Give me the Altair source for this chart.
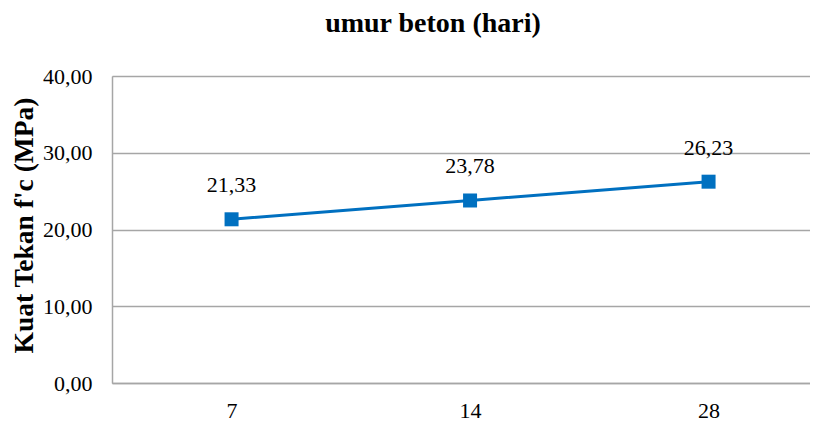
import altair as alt
import pandas as pd

days = ["7", "14", "28"]
strength = [21.33, 23.78, 26.23]

df = pd.DataFrame({"umur": days, "fc": strength})

FONT = "Liberation Serif"
BLUE = "#0070C0"
GRID = "#A6A6A6"

x_enc = alt.X(
    "umur:O",
    sort=days,
    scale=alt.Scale(type="point", padding=0.4633, align=0.541),
    axis=alt.Axis(
        title=None, labelAngle=0, ticks=False, domain=True, domainColor=GRID,
        domainWidth=1.5, labelFont=FONT, labelFontSize=22, labelColor="#000000",
        labelPadding=17, grid=False,
    ),
)
y_enc = alt.Y(
    "fc:Q",
    scale=alt.Scale(domain=[0, 40], nice=False),
    axis=alt.Axis(
        values=[0, 10, 20, 30, 40],
        labelExpr="replace(format(datum.value, '.2f'), '.', ',')",
        title="Kuat Tekan f'c (MPa)",
        titleFont=FONT, titleFontSize=27.5, titleFontWeight="bold", titleColor="#000000",
        titleAngle=-90, titleX=-88, titleY=149, titleAlign="center", titleBaseline="middle",
        labelFont=FONT, labelFontSize=22, labelColor="#000000", labelPadding=20,
        ticks=False, domain=True, domainColor=GRID, domainWidth=1.5,
        grid=True, gridColor=GRID, gridWidth=1.5,
    ),
)

base = alt.Chart(df).encode(x=x_enc, y=y_enc)

line = base.mark_line(color=BLUE, strokeWidth=3)
points = base.mark_point(shape="square", filled=True, size=196, color=BLUE, opacity=1)
labels = base.transform_calculate(
    lab="replace(format(datum.fc, '.2f'), '.', ',')"
).mark_text(
    font=FONT, fontSize=22, color="#000000", baseline="alphabetic", align="center", dy=-27
).encode(text="lab:N")

chart = (
    alt.layer(line, points, labels)
    .properties(
        width=698,
        height=307,
        autosize=alt.AutoSizeParams(type="none"),
        padding={"left": 104, "top": 68, "right": 0, "bottom": 40},
        title=alt.TitleParams(
            "umur beton (hari)", font=FONT, fontSize=28, fontWeight="bold",
            color="#000000", anchor="middle", dx=-28, offset=27,
        ),
    )
    .configure_view(stroke=None)
    .configure(background="white")
)

chart.save("out.html", embed_options={"renderer": "svg", "actions": False})
